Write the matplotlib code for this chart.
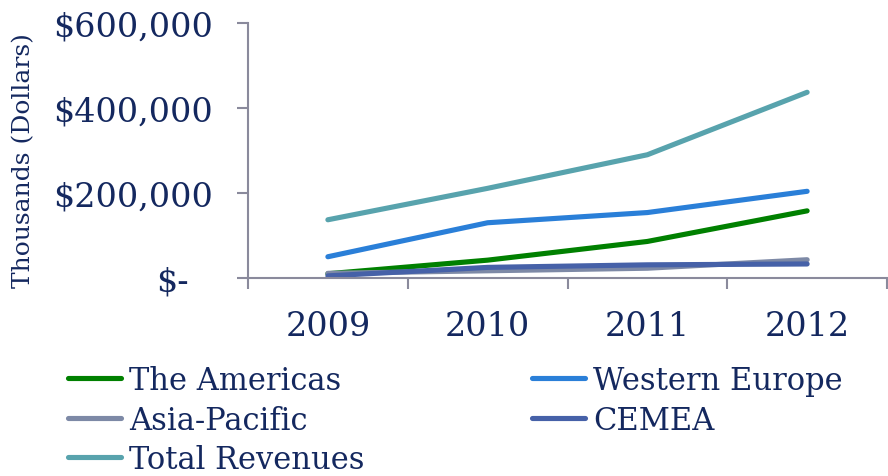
import matplotlib
matplotlib.use("Agg")
import matplotlib.pyplot as plt
from matplotlib.ticker import FixedLocator, FuncFormatter, NullFormatter
from matplotlib.transforms import ScaledTranslation

# revenue by region, thousands of dollars
years = ["2009", "2010", "2011", "2012"]
americas = [10000, 42000, 86000, 158000]
western_europe = [50000, 130000, 154000, 204000]
asia_pacific = [11000, 17000, 23000, 43000]
cemea = [5000, 25000, 31000, 33000]
total_revenues = [137000, 211000, 290000, 437000]

yticks = [0, 200000, 400000, 600000]

TEXT = "#14285f"
AXIS = "#8a8a9c"
FONT = "DejaVu Serif"
plt.rcParams["font.family"] = FONT

fig = plt.figure(figsize=(8.88, 4.77), dpi=100)
ax = fig.add_axes([248 / 888, 1 - 279 / 477, 639 / 888, 255 / 477])

x = list(range(len(years)))
series = [
    ("The Americas", americas, "#008000"),
    ("Western Europe", western_europe, "#2a7fd8"),
    ("Asia-Pacific", asia_pacific, "#7d89a6"),
    ("CEMEA", cemea, "#4661a8"),
    ("Total Revenues", total_revenues, "#58a3ad"),
]
lines = {}
for name, vals, col in series:
    (ln,) = ax.plot(x, vals, color=col, lw=3.7, solid_capstyle="round",
                    solid_joinstyle="round", label=name)
    lines[name] = ln

ax.set_xlim(-0.5, len(years) - 0.5)
ax.set_ylim(0, 600000)

for side in ("top", "right"):
    ax.spines[side].set_visible(False)
for side in ("left", "bottom"):
    ax.spines[side].set_color(AXIS)
    ax.spines[side].set_linewidth(1.5)

# category boundaries get tick marks, category centres get the year labels
ax.xaxis.set_major_locator(FixedLocator([i - 0.5 for i in range(len(years) + 1)]))
ax.xaxis.set_major_formatter(NullFormatter())
ax.xaxis.set_minor_locator(FixedLocator(x))
ax.xaxis.set_minor_formatter(FuncFormatter(lambda v, p: years[int(round(v))]))
ax.tick_params(axis="x", which="major", length=8, width=1.5, color=AXIS)
ax.tick_params(axis="x", which="minor", length=0, pad=23, labelsize=24,
               labelcolor=TEXT)

ax.yaxis.set_major_locator(FixedLocator(yticks))
ax.yaxis.set_major_formatter(
    FuncFormatter(lambda v, p: "$-" if v == 0 else f"${v:,.0f}"))
ax.tick_params(axis="y", length=8, width=1.5, color=AXIS, pad=17,
               labelsize=24, labelcolor=TEXT)

# the zero label sits further left, like an accounting format
zero_tick = ax.yaxis.get_major_ticks()[0]
zero_tick.label1.set_transform(
    zero_tick.label1.get_transform()
    + ScaledTranslation(-25 / 100, 0, fig.dpi_scale_trans))

ax.set_ylabel("Thousands (Dollars)", fontsize=18, color=TEXT)
ax.yaxis.set_label_coords(-0.333, 0.463)

leg_kw = dict(frameon=False, fontsize=22, handlelength=1.75,
              handletextpad=0.25, labelspacing=0.28, borderpad=0,
              borderaxespad=0, loc="upper left", labelcolor=TEXT)
left_names = ["The Americas", "Asia-Pacific", "Total Revenues"]
right_names = ["Western Europe", "CEMEA"]
leg1 = fig.legend([lines[n] for n in left_names], left_names,
                  bbox_to_anchor=(68 / 888, 1 - 366 / 477), **leg_kw)
leg2 = fig.legend([lines[n] for n in right_names], right_names,
                  bbox_to_anchor=(532 / 888, 1 - 366 / 477), **leg_kw)
for leg in (leg1, leg2):
    for h in leg.legend_handles:
        h.set_linewidth(3.7)

fig.savefig("out.png", dpi=100)
